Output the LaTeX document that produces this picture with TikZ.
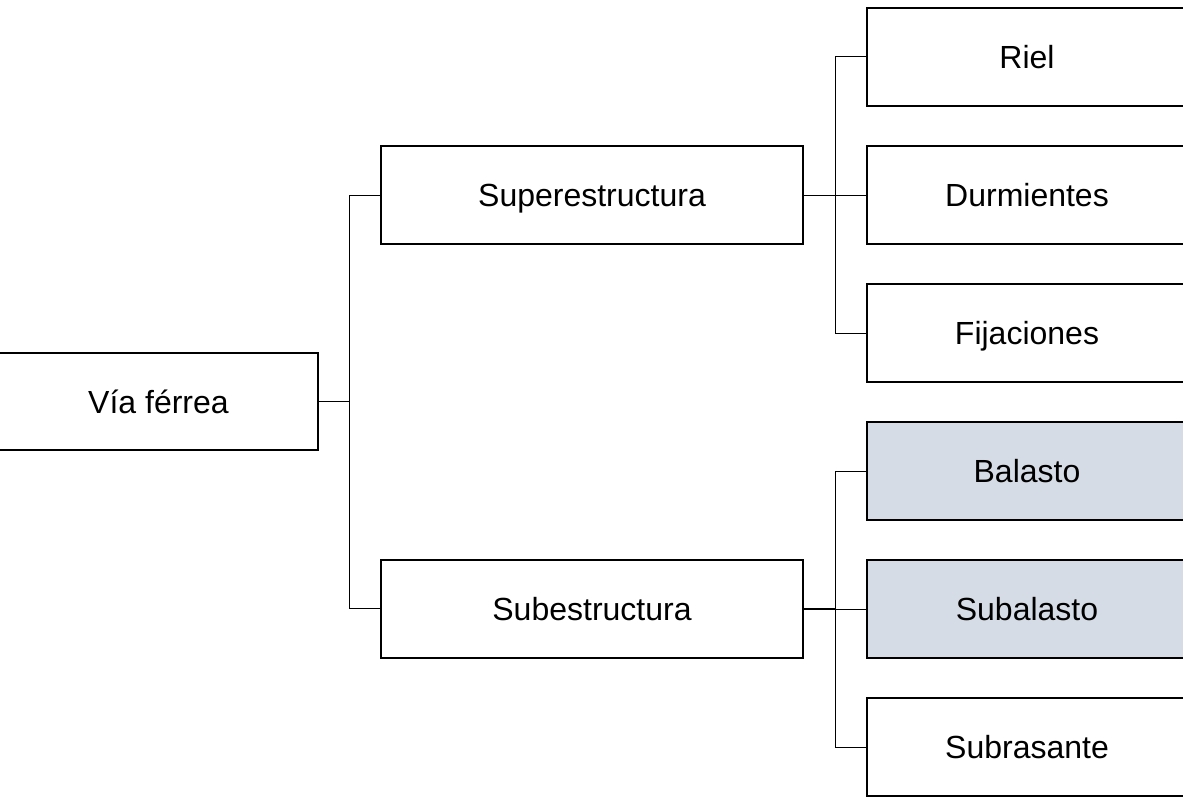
\documentclass[tikz,border=0pt]{standalone}
\usepackage{fontspec}
\setmainfont{Liberation Sans}
\definecolor{soilfill}{HTML}{D6DCE5}
\begin{document}
\begin{tikzpicture}[x=1pt,y=-1pt,
  box/.style={draw=black,line width=2pt,fill=white,rectangle,inner sep=0pt,
    text height=23pt,text depth=0pt,
    font=\fontsize{32}{38}\selectfont},
  rootbox/.style={box,minimum width=319pt,minimum height=97pt},
  midbox/.style={box,minimum width=422pt,minimum height=98pt},
  leafbox/.style={box,minimum width=320pt,minimum height=98pt},
  soilbox/.style={leafbox,fill=soilfill},
  link/.style={draw=black,line width=1pt}]
\useasboundingbox (0,0) rectangle (1183,797);
\clip (0,0) rectangle (1183,797);
% boxes
\node[rootbox] (via) at (158.5,401.5) {Vía férrea};
\node[midbox] (sup) at (592,195) {Superestructura};
\node[midbox] (sub) at (592,608.5) {Subestructura};
\node[leafbox] (riel) at (1027,57) {Riel};
\node[leafbox] (durm) at (1027,195) {Durmientes};
\node[leafbox] (fij) at (1027,333) {Fijaciones};
\node[soilbox] (bal) at (1027,471) {Balasto};
\node[soilbox] (subal) at (1027,609) {Subalasto};
\node[leafbox] (subr) at (1027,747) {Subrasante};
% trunk positions of the bracket connectors
\coordinate (t1) at (349,0);
\coordinate (t2) at (835,0);
% root to the two structures
\draw[link] (via.east) -- (via.east -| t1);
\draw[link] (sup.west) -- (sup.west -| t1) -- (sub.west -| t1) -- (sub.west);
% superstructure components
\draw[link] (sup.east) -- (sup.east -| t2);
\draw[link] (riel.west) -- (riel.west -| t2) -- (fij.west -| t2) -- (fij.west);
\draw[link] (durm.west) -- (durm.west -| t2);
% substructure components
\draw[link,line width=2pt] (sub.east) -- (sub.east -| t2);
\draw[link] (bal.west) -- (bal.west -| t2) -- (subr.west -| t2) -- (subr.west);
\draw[link] (subal.west) -- (subal.west -| t2);
\end{tikzpicture}
\end{document}
